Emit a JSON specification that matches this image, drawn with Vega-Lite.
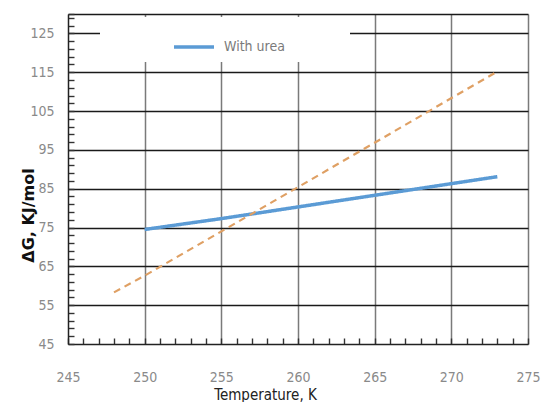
{
  "$schema": "https://vega.github.io/schema/vega-lite/v6.json",
  "width": 460,
  "height": 330,
  "autosize": {"type": "none"},
  "padding": {"left": 68, "top": 14, "right": 19, "bottom": 58},
  "background": "white",
  "config": {
    "view": {"stroke": null},
    "font": "DejaVu Sans Condensed"
  },
  "data": {
    "values": [
      {"series": "With urea", "T": 250, "G": 74.5},
      {"series": "With urea", "T": 255, "G": 77.3},
      {"series": "With urea", "T": 260, "G": 80.3},
      {"series": "With urea", "T": 265, "G": 83.3},
      {"series": "With urea", "T": 270, "G": 86.3},
      {"series": "With urea", "T": 273, "G": 88.1},
      {"series": "Without urea", "T": 248, "G": 58.3},
      {"series": "Without urea", "T": 250, "G": 62.6},
      {"series": "Without urea", "T": 260, "G": 85.4},
      {"series": "Without urea", "T": 273, "G": 115.2}
    ]
  },
  "mark": {"type": "line", "strokeCap": "butt"},
  "encoding": {
    "x": {
      "field": "T",
      "type": "quantitative",
      "scale": {"domain": [245, 275], "nice": false, "zero": false},
      "axis": {
        "values": [245,246,247,248,249,250,251,252,253,254,255,256,257,258,259,260,261,262,263,264,265,266,267,268,269,270,271,272,273,274,275],
        "labelExpr": "datum.value % 5 === 0 ? datum.label : ''",
        "labelOverlap": false,
        "labelBound": false,
        "labelFlush": false,
        "labelFont": "DejaVu Sans Condensed",
        "labelFontSize": 14,
        "labelColor": "#8a8a8a",
        "labelPadding": 32,
        "tickSize": -6,
        "tickColor": "#333333",
        "tickWidth": 1.4,
        "domainColor": "#222222",
        "domainWidth": 1.5,
        "grid": true,
        "gridColor": "#7a7a7a",
        "gridWidth": 1.5,
        "gridOpacity": {"condition": {"test": "datum.value % 5 === 0 && datum.value > 245", "value": 1}, "value": 0},
        "title": "Temperature, K",
        "titleFont": "DejaVu Sans Condensed",
        "titleFontSize": 15,
        "titleFontWeight": "normal",
        "titleColor": "#222222",
        "titleX": 197,
        "titleY": 50,
        "titleAlign": "center",
        "titleBaseline": "middle"
      }
    },
    "y": {
      "field": "G",
      "type": "quantitative",
      "scale": {"domain": [45, 130], "nice": false, "zero": false},
      "axis": {
        "values": [45,47,49,51,53,55,57,59,61,63,65,67,69,71,73,75,77,79,81,83,85,87,89,91,93,95,97,99,101,103,105,107,109,111,113,115,117,119,121,123,125,127,129,130],
        "labelExpr": "(datum.value - 45) % 10 === 0 && datum.value <= 125 ? datum.label : ''",
        "labelOverlap": false,
        "labelBound": false,
        "labelFlush": false,
        "labelFont": "DejaVu Sans Condensed",
        "labelFontSize": 14,
        "labelColor": "#8a8a8a",
        "labelPadding": 20,
        "labelBaseline": "middle",
        "tickSize": -6,
        "tickColor": "#333333",
        "tickWidth": 1.4,
        "domainColor": "#222222",
        "domainWidth": 1.5,
        "grid": true,
        "gridColor": "#1a1a1a",
        "gridWidth": 1.5,
        "gridOpacity": {"condition": {"test": "((datum.value - 45) % 10 === 0 && datum.value > 45) || datum.value === 130", "value": 1}, "value": 0},
        "title": "ΔG, KJ/mol",
        "titleFont": "DejaVu Sans",
        "titleFontSize": 16,
        "titleFontWeight": "bold",
        "titleColor": "#111111",
        "titleAngle": 270,
        "titleX": -40,
        "titleY": 201,
        "titleAlign": "center",
        "titleBaseline": "middle"
      }
    },
    "color": {
      "field": "series",
      "type": "nominal",
      "scale": {"domain": ["With urea", "Without urea"], "range": ["#5b9bd5", "#dfa064"]},
      "legend": {
        "values": ["With urea"],
        "orient": "none",
        "legendX": 32,
        "legendY": 3,
        "fillColor": "white",
        "padding": 8,
        "symbolType": "stroke",
        "symbolSize": 1600,
        "symbolStrokeWidth": 2.5,
        "symbolOffset": 64,
        "labelOffset": 8,
        "labelFont": "DejaVu Sans Condensed",
        "labelFontSize": 14,
        "labelColor": "#7a7a7a",
        "title": " ",
        "titleOrient": "right",
        "titlePadding": 57
      }
    },
    "strokeDash": {
      "field": "series",
      "type": "nominal",
      "scale": {"domain": ["With urea", "Without urea"], "range": [[1, 0], [7, 5]]},
      "legend": null
    },
    "strokeWidth": {
      "field": "series",
      "type": "nominal",
      "scale": {"domain": ["With urea", "Without urea"], "range": [3.5, 2.2]},
      "legend": null
    }
  }
}
